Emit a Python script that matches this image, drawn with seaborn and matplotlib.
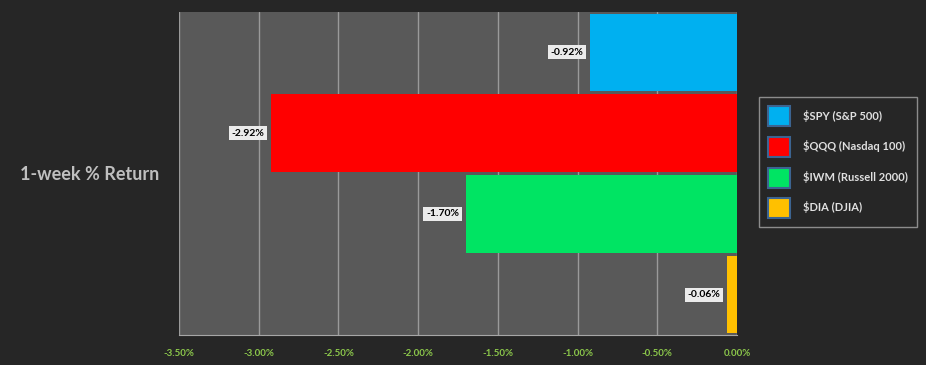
import matplotlib
matplotlib.use("Agg")
import matplotlib.pyplot as plt
from matplotlib.patches import Patch
from matplotlib.ticker import FuncFormatter, MultipleLocator
import pandas as pd
import seaborn as sns

# data
period = "1-week % Return"
tickers = ["$SPY (S&P 500)", "$QQQ (Nasdaq 100)", "$IWM (Russell 2000)", "$DIA (DJIA)"]
returns = [-0.92, -2.92, -1.70, -0.06]
colors = ["#00B0F0", "#FF0000", "#00E463", "#FFC000"]

df = pd.DataFrame({"period": [period] * len(tickers), "ticker": tickers, "ret": returns})

sns.set_style("dark")
plt.rcParams["font.family"] = ["Lato", "DejaVu Sans"]

fig = plt.figure(figsize=(9.26, 3.65), dpi=100, facecolor="#262626")
ax = fig.add_axes([179 / 926, 1 - 335 / 365, (737 - 179) / 926, (335 - 12) / 365])
ax.set_facecolor("#595959")

sns.barplot(data=df, x="ret", y="period", hue="ticker", palette=colors, saturation=1,
            orient="h", width=1.0, gap=0.04, linewidth=0, legend=False, ax=ax)

for cont, r in zip(ax.containers, returns):
    ax.bar_label(cont, labels=[f"{r:.2f}%"], padding=5, fontsize=7.5, fontweight="bold",
                 color="black",
                 bbox=dict(boxstyle="square,pad=0.25", facecolor="#EBEBEB", edgecolor="none"))

ax.set_xlim(-3.5, 0)
ax.xaxis.set_major_locator(MultipleLocator(0.5))
ax.xaxis.set_major_formatter(FuncFormatter(lambda v, p: f"{v:.2f}%"))
ax.grid(axis="x", color="#9A9A9A", linewidth=1)
ax.set_axisbelow(True)
ax.set_xlabel("")
ax.set_ylabel("")

for s in ["top", "right"]:
    ax.spines[s].set_visible(False)
ax.spines["left"].set_visible(False)
ax.spines["bottom"].set_color("#A6A6A6")

ax.tick_params(axis="x", colors="#A6A6A6", length=4, width=1, direction="out", pad=6)
for t in ax.get_xticklabels():
    t.set_color("#8CC84B")
    t.set_fontsize(7)
    t.set_fontweight("bold")
ax.tick_params(axis="y", length=0, pad=14)
for t in ax.get_yticklabels():
    t.set_color("#BFBFBF")
    t.set_fontsize(13)
    t.set_fontweight("bold")

handles = [Patch(facecolor=c, edgecolor="#3C6491", linewidth=1.5, label=t)
           for c, t in zip(colors, tickers)]
leg = fig.legend(handles=handles, loc="upper left", bbox_to_anchor=(759 / 926, 1 - 97 / 365),
                 frameon=True, fancybox=False, facecolor="#262626", edgecolor="#A6A6A6",
                 fontsize=8, handlelength=1.9, handleheight=2.39, labelspacing=0.95,
                 borderpad=0.85, handletextpad=1.2, borderaxespad=0)
leg.get_frame().set_linewidth(1)
for t in leg.get_texts():
    t.set_color("#E0E0E0")
    t.set_fontweight("bold")

fig.savefig("out.png", dpi=100, facecolor=fig.get_facecolor())
